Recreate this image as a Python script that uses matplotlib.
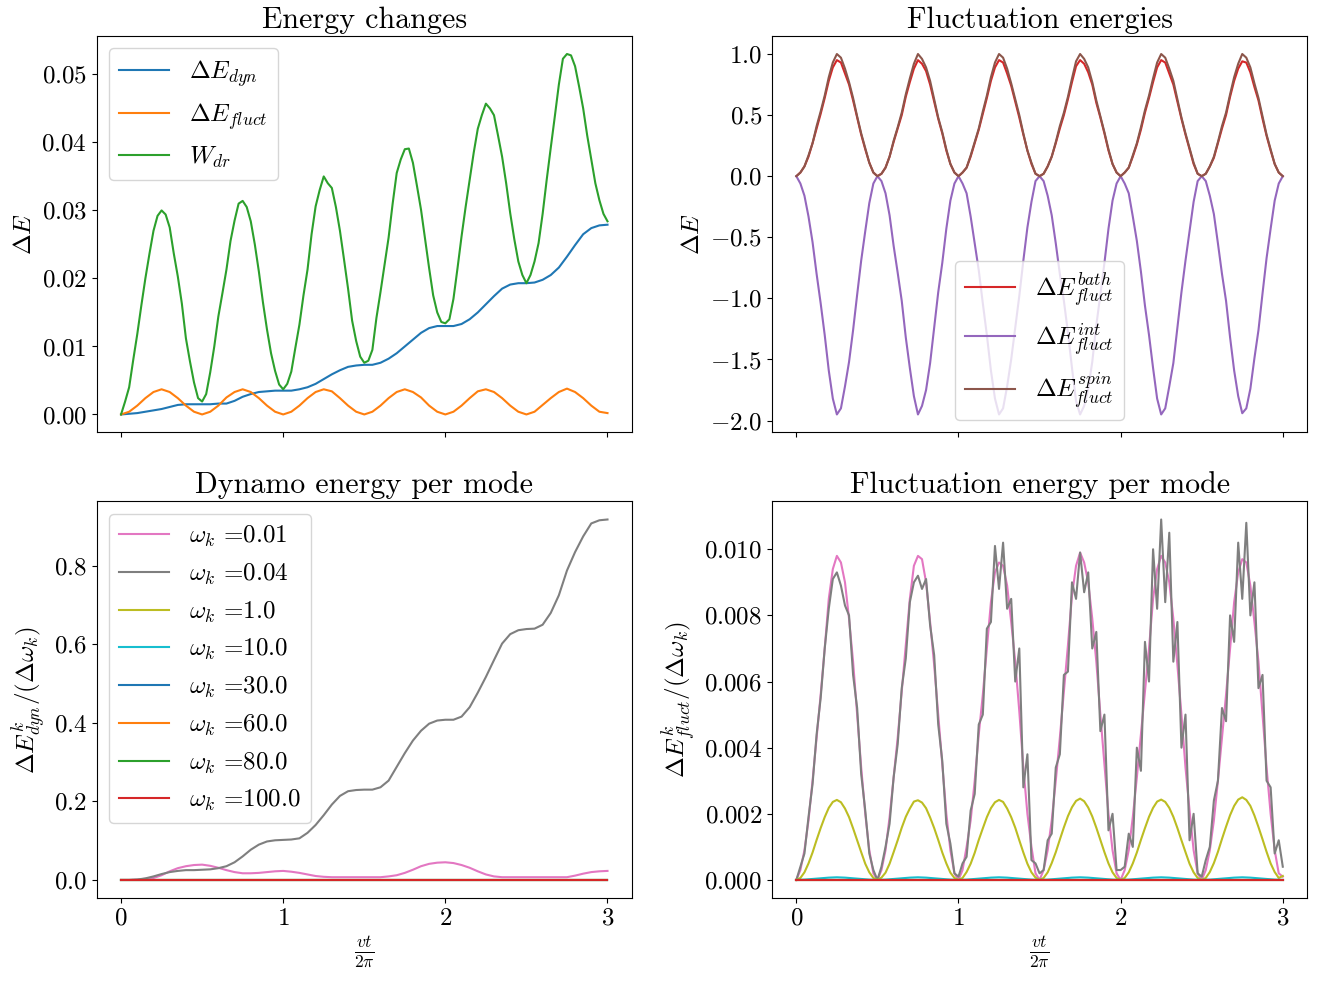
import numpy as np
import matplotlib
matplotlib.use("Agg")
from matplotlib import pyplot as plt

plt.rcParams["font.family"] = "serif"
plt.rcParams["font.serif"] = ["cmr10"]
plt.rcParams["mathtext.fontset"] = "cm"
plt.rcParams["axes.formatter.use_mathtext"] = True
plt.rcParams["font.size"] = 18

# time axis vt/2pi, two sampling grids
t05 = np.linspace(0, 3, 61)
t025 = np.linspace(0, 3, 121)

# --- Energy changes (top left) ---
e_dyn = [0.0000, 0.0001, 0.0002, 0.0004, 0.0006, 0.0008, 0.0011, 0.0014, 0.0015, 0.0015,
         0.0015, 0.0015, 0.0016, 0.0016, 0.0020, 0.0026, 0.0030, 0.0033, 0.0034, 0.0035,
         0.0035, 0.0035, 0.0037, 0.0040, 0.0045, 0.0052, 0.0059, 0.0065, 0.0070, 0.0072,
         0.0073, 0.0073, 0.0076, 0.0082, 0.0090, 0.0100, 0.0110, 0.0120, 0.0127, 0.0130,
         0.0130, 0.0130, 0.0133, 0.0140, 0.0150, 0.0162, 0.0174, 0.0185, 0.0191, 0.0193,
         0.0193, 0.0194, 0.0198, 0.0205, 0.0216, 0.0232, 0.0249, 0.0265, 0.0274, 0.0278,
         0.0279]
e_fluct = [0.0000, 0.0004, 0.0013, 0.0024, 0.0033, 0.0037, 0.0033, 0.0024, 0.0013, 0.0004,
           0.0000, 0.0004, 0.0013, 0.0025, 0.0033, 0.0037, 0.0033, 0.0024, 0.0013, 0.0004,
           0.0000, 0.0004, 0.0013, 0.0024, 0.0033, 0.0037, 0.0034, 0.0024, 0.0013, 0.0004,
           0.0000, 0.0004, 0.0013, 0.0024, 0.0033, 0.0037, 0.0033, 0.0025, 0.0013, 0.0004,
           0.0000, 0.0004, 0.0013, 0.0024, 0.0034, 0.0037, 0.0033, 0.0024, 0.0013, 0.0004,
           0.0000, 0.0004, 0.0014, 0.0024, 0.0033, 0.0038, 0.0033, 0.0024, 0.0013, 0.0004,
           0.0002]
w_dr = [0.0000, 0.0019, 0.0040, 0.0080, 0.0118, 0.0160, 0.0200, 0.0236, 0.0270, 0.0292,
        0.0300, 0.0294, 0.0275, 0.0237, 0.0203, 0.0163, 0.0112, 0.0078, 0.0047, 0.0024,
        0.0019, 0.0030, 0.0062, 0.0100, 0.0144, 0.0178, 0.0213, 0.0255, 0.0285, 0.0310,
        0.0314, 0.0305, 0.0284, 0.0250, 0.0210, 0.0165, 0.0125, 0.0090, 0.0064, 0.0044,
        0.0037, 0.0045, 0.0063, 0.0098, 0.0132, 0.0175, 0.0213, 0.0265, 0.0306, 0.0330,
        0.0350, 0.0340, 0.0333, 0.0305, 0.0270, 0.0228, 0.0185, 0.0138, 0.0108, 0.0085,
        0.0076, 0.0079, 0.0095, 0.0142, 0.0180, 0.0220, 0.0260, 0.0310, 0.0355, 0.0375,
        0.0390, 0.0391, 0.0370, 0.0336, 0.0301, 0.0258, 0.0215, 0.0175, 0.0150, 0.0136,
        0.0134, 0.0140, 0.0170, 0.0215, 0.0262, 0.0305, 0.0345, 0.0385, 0.0420, 0.0440,
        0.0457, 0.0450, 0.0440, 0.0410, 0.0379, 0.0340, 0.0296, 0.0258, 0.0225, 0.0205,
        0.0193, 0.0205, 0.0225, 0.0252, 0.0295, 0.0345, 0.0392, 0.0438, 0.0485, 0.0523,
        0.0530, 0.0528, 0.0512, 0.0482, 0.0450, 0.0410, 0.0375, 0.0340, 0.0315, 0.0295,
        0.0284]

# --- Fluctuation energies (top right) ---
e_bath = [0.00, 0.03, 0.08, 0.16, 0.27, 0.39, 0.51, 0.64, 0.78, 0.89, 0.95, 0.93, 0.84, 0.75, 0.62, 0.48, 0.34, 0.22, 0.11, 0.03,
          0.00, 0.02, 0.07, 0.16, 0.28, 0.39, 0.50, 0.65, 0.77, 0.88, 0.95, 0.92, 0.86, 0.75, 0.61, 0.47, 0.35, 0.21, 0.10, 0.03,
          0.00, 0.03, 0.07, 0.16, 0.27, 0.38, 0.51, 0.64, 0.78, 0.89, 0.95, 0.93, 0.84, 0.74, 0.61, 0.48, 0.34, 0.21, 0.10, 0.02,
          0.00, 0.02, 0.08, 0.16, 0.27, 0.39, 0.50, 0.63, 0.77, 0.90, 0.95, 0.92, 0.85, 0.75, 0.60, 0.48, 0.35, 0.21, 0.10, 0.03,
          0.00, 0.03, 0.07, 0.16, 0.26, 0.38, 0.52, 0.64, 0.77, 0.89, 0.95, 0.93, 0.84, 0.75, 0.61, 0.47, 0.34, 0.22, 0.10, 0.02,
          0.00, 0.02, 0.08, 0.15, 0.27, 0.39, 0.50, 0.65, 0.78, 0.88, 0.94, 0.93, 0.85, 0.73, 0.62, 0.47, 0.33, 0.21, 0.10, 0.03,
          0.00]
e_int = [0.00, -0.06, -0.16, -0.33, -0.54, -0.80, -1.04, -1.30, -1.59, -1.82, -1.95, -1.90, -1.72, -1.52, -1.26, -0.97, -0.69, -0.45, -0.22, -0.06,
         0.00, -0.04, -0.14, -0.32, -0.57, -0.79, -1.02, -1.32, -1.57, -1.80, -1.95, -1.88, -1.75, -1.53, -1.24, -0.95, -0.71, -0.43, -0.20, -0.06,
         0.00, -0.06, -0.14, -0.33, -0.55, -0.77, -1.04, -1.30, -1.59, -1.82, -1.95, -1.90, -1.72, -1.50, -1.24, -0.98, -0.69, -0.42, -0.21, -0.04,
         0.00, -0.04, -0.16, -0.32, -0.55, -0.80, -1.02, -1.28, -1.57, -1.84, -1.95, -1.88, -1.74, -1.52, -1.22, -0.97, -0.71, -0.43, -0.20, -0.06,
         0.00, -0.06, -0.14, -0.33, -0.53, -0.78, -1.06, -1.30, -1.57, -1.82, -1.95, -1.90, -1.72, -1.53, -1.24, -0.95, -0.69, -0.45, -0.21, -0.04,
         0.00, -0.04, -0.16, -0.31, -0.55, -0.80, -1.02, -1.32, -1.59, -1.80, -1.94, -1.90, -1.74, -1.49, -1.26, -0.96, -0.67, -0.43, -0.20, -0.06,
         0.00]
e_spin = [0.00, 0.03, 0.08, 0.17, 0.27, 0.41, 0.53, 0.66, 0.81, 0.93, 1.00, 0.97, 0.88, 0.77, 0.64, 0.49, 0.35, 0.23, 0.11, 0.03,
          0.00, 0.02, 0.07, 0.16, 0.29, 0.40, 0.52, 0.67, 0.80, 0.92, 1.00, 0.96, 0.89, 0.78, 0.63, 0.48, 0.36, 0.22, 0.10, 0.03,
          0.00, 0.03, 0.07, 0.17, 0.28, 0.39, 0.53, 0.66, 0.81, 0.93, 1.00, 0.97, 0.88, 0.76, 0.63, 0.50, 0.35, 0.21, 0.11, 0.02,
          0.00, 0.02, 0.08, 0.16, 0.28, 0.41, 0.52, 0.65, 0.80, 0.94, 1.00, 0.96, 0.89, 0.77, 0.62, 0.49, 0.36, 0.22, 0.10, 0.03,
          0.00, 0.03, 0.07, 0.17, 0.27, 0.40, 0.54, 0.66, 0.80, 0.93, 1.00, 0.97, 0.88, 0.78, 0.63, 0.48, 0.35, 0.23, 0.11, 0.02,
          0.00, 0.02, 0.08, 0.16, 0.28, 0.41, 0.52, 0.67, 0.81, 0.92, 1.00, 0.97, 0.89, 0.76, 0.64, 0.49, 0.34, 0.22, 0.10, 0.03,
          0.00]

# --- Dynamo energy per mode (bottom left) ---
omegas = ["0.01", "0.04", "1.0", "10.0", "30.0", "60.0", "80.0", "100.0"]
mode_colors = ["tab:pink", "tab:gray", "tab:olive", "tab:cyan",
               "tab:blue", "tab:orange", "tab:green", "tab:red"]
dyn_001 = [0.000, 0.000, 0.001, 0.003, 0.005, 0.012, 0.022, 0.030, 0.035, 0.038,
           0.039, 0.036, 0.031, 0.025, 0.020, 0.017, 0.017, 0.018, 0.020, 0.022,
           0.023, 0.021, 0.018, 0.014, 0.010, 0.008, 0.007, 0.007, 0.007, 0.007,
           0.007, 0.007, 0.007, 0.009, 0.012, 0.018, 0.026, 0.035, 0.041, 0.044,
           0.045, 0.043, 0.038, 0.031, 0.022, 0.014, 0.009, 0.007, 0.007, 0.007,
           0.007, 0.007, 0.007, 0.007, 0.007, 0.007, 0.011, 0.016, 0.020, 0.022,
           0.023]
dyn_004 = [0.000, 0.000, 0.001, 0.004, 0.009, 0.015, 0.020, 0.023, 0.025, 0.025,
           0.026, 0.027, 0.030, 0.035, 0.045, 0.060, 0.077, 0.090, 0.098, 0.101,
           0.102, 0.103, 0.106, 0.120, 0.140, 0.165, 0.192, 0.214, 0.226, 0.229,
           0.230, 0.230, 0.236, 0.253, 0.288, 0.323, 0.355, 0.380, 0.398, 0.406,
           0.408, 0.408, 0.416, 0.440, 0.477, 0.517, 0.560, 0.602, 0.626, 0.636,
           0.639, 0.640, 0.650, 0.680, 0.725, 0.788, 0.835, 0.875, 0.908, 0.916,
           0.918]
dyn_zero = np.zeros(len(t05))

# --- Fluctuation energy per mode (bottom right) ---
fl_001 = [0, .0003, .0009, .0018, .0030, .0043, .0056, .0070, .0085, .0094, .0098, .0096, .0090, .0079, .0066, .0050, .0034, .0020, .0009, .0002,
          0, .0003, .0009, .0019, .0031, .0043, .0057, .0071, .0085, .0095, .0098, .0097, .0090, .0078, .0065, .0050, .0035, .0020, .0009, .0002,
          0, .0003, .0010, .0018, .0030, .0044, .0056, .0070, .0084, .0093, .0096, .0095, .0089, .0078, .0066, .0051, .0034, .0020, .0010, .0002,
          0, .0003, .0009, .0018, .0030, .0043, .0057, .0071, .0086, .0095, .0099, .0096, .0090, .0079, .0066, .0050, .0035, .0020, .0009, .0002,
          0, .0003, .0009, .0019, .0031, .0044, .0057, .0070, .0085, .0094, .0098, .0096, .0090, .0079, .0065, .0050, .0034, .0021, .0009, .0002,
          0, .0003, .0009, .0018, .0030, .0043, .0056, .0070, .0084, .0093, .0097, .0096, .0089, .0078, .0066, .0050, .0034, .0020, .0009, .0002,
          .0001]
fl_004 = [0, .0004, .0008, .0019, .0029, .0044, .0055, .0070, .0082, .0091, .0093, .0089, .0083, .0080, .0062, .0052, .0032, .0021, .0008, .0003,
          0, .0004, .0010, .0017, .0031, .0041, .0058, .0067, .0084, .0090, .0092, .0088, .0091, .0077, .0068, .0047, .0036, .0017, .0011, .0002,
          .0001, .0005, .0007, .0021, .0026, .0047, .0050, .0076, .0078, .0101, .0088, .0102, .0082, .0085, .0060, .0070, .0028, .0038, .0006, .0005,
          .0002, .0003, .0012, .0014, .0034, .0038, .0062, .0063, .0090, .0085, .0099, .0087, .0093, .0070, .0075, .0045, .0050, .0015, .0020, .0003,
          .0003, .0004, .0014, .0010, .0040, .0033, .0072, .0060, .0100, .0082, .0109, .0084, .0105, .0066, .0078, .0040, .0050, .0012, .0020, .0002,
          .0001, .0006, .0010, .0024, .0030, .0052, .0048, .0080, .0072, .0102, .0085, .0108, .0080, .0090, .0058, .0062, .0030, .0028, .0008, .0012,
          .0004]
fl_1 = [0, .00006, .00023, .00050, .00083, .00121, .00157, .00190, .00218, .00236, .00242, .00235, .00216, .00190, .00156, .00120, .00084, .00049, .00023, .00006,
        0, .00007, .00022, .00049, .00084, .00120, .00158, .00191, .00216, .00237, .00241, .00234, .00217, .00189, .00157, .00121, .00083, .00050, .00022, .00006,
        0, .00006, .00024, .00049, .00082, .00121, .00156, .00190, .00217, .00235, .00242, .00236, .00216, .00190, .00158, .00120, .00083, .00049, .00023, .00007,
        0, .00006, .00023, .00051, .00084, .00122, .00159, .00193, .00220, .00239, .00246, .00238, .00219, .00192, .00158, .00121, .00084, .00050, .00023, .00006,
        0, .00006, .00023, .00050, .00083, .00121, .00157, .00191, .00218, .00237, .00243, .00236, .00218, .00191, .00157, .00120, .00084, .00049, .00023, .00006,
        0, .00006, .00024, .00051, .00085, .00124, .00161, .00196, .00224, .00243, .00250, .00242, .00224, .00195, .00160, .00123, .00085, .00050, .00024, .00006,
        .00012]
fl_10 = [0, .00001, .00003, .00005, .00007, .00008, .00007, .00005, .00003, .00001,
         0, .00001, .00003, .00005, .00007, .00008, .00007, .00005, .00003, .00001,
         0, .00001, .00003, .00005, .00007, .00008, .00007, .00005, .00003, .00001,
         0, .00001, .00003, .00005, .00007, .00008, .00007, .00005, .00003, .00001,
         0, .00001, .00003, .00005, .00007, .00008, .00007, .00005, .00003, .00001,
         0, .00001, .00003, .00005, .00007, .00008, .00007, .00005, .00003, .00001,
         0]
fl_zero = np.zeros(len(t05))

fig, axes = plt.subplots(2, 2, figsize=(13.25, 9.83), sharex=True)
fig.subplots_adjust(left=0.073, right=0.9865, top=0.9634, bottom=0.0865,
                    wspace=0.262, hspace=0.174)
ax1, ax2 = axes[0]
ax3, ax4 = axes[1]

ax1.plot(t05, e_dyn, label=r"$\Delta E_{dyn}$")
ax1.plot(t05, e_fluct, label=r"$\Delta E_{fluct}$")
ax1.plot(t025, w_dr, label=r"$W_{dr}$")
ax1.set_title("Energy changes")
ax1.set_ylabel(r"$\Delta E$")
ax1.legend(loc="upper left")

ax2.plot(t025, e_bath, color="tab:red", label=r"$\Delta E^{bath}_{fluct}$")
ax2.plot(t025, e_int, color="tab:purple", label=r"$\Delta E^{int}_{fluct}$")
ax2.plot(t025, e_spin, color="tab:brown", label=r"$\Delta E^{spin}_{fluct}$")
ax2.set_title("Fluctuation energies")
ax2.set_ylabel(r"$\Delta E$")
ax2.legend(loc="lower center")

dyn_data = [dyn_001, dyn_004] + [dyn_zero] * 6
for w, c, d in zip(omegas, mode_colors, dyn_data):
    ax3.plot(t05, d, color=c, label=r"$\omega_k$ =" + w)
ax3.set_title("Dynamo energy per mode")
ax3.set_ylabel(r"$\Delta E^k_{dyn}/(\Delta\omega_k)$")
ax3.set_xlabel(r"$\frac{vt}{2\pi}$")
ax3.legend(loc="upper left")

fl_data = [(t025, fl_001), (t025, fl_004), (t025, fl_1), (t05, fl_10)] + [(t05, fl_zero)] * 4
for c, (tt, d) in zip(mode_colors, fl_data):
    ax4.plot(tt, d, color=c)
ax4.set_title("Fluctuation energy per mode")
ax4.set_ylabel(r"$\Delta E^k_{fluct}/(\Delta\omega_k)$")
ax4.set_xlabel(r"$\frac{vt}{2\pi}$")

ax1.set_xticks([0, 1, 2, 3])

plt.savefig("out.png", dpi=100)
